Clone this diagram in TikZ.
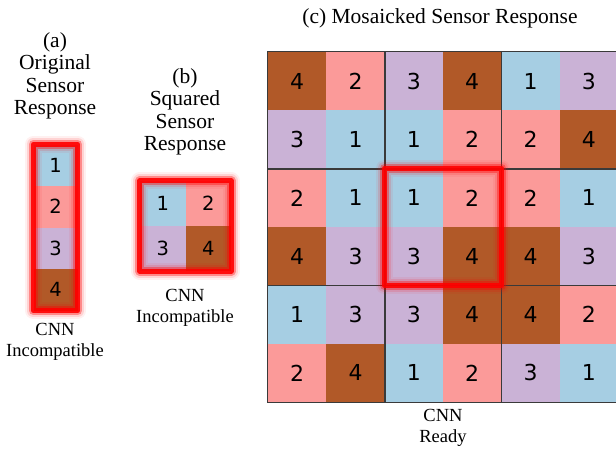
\documentclass[tikz,border=0pt]{standalone}
\usepackage{fontspec}
\setmainfont{Liberation Serif}
\newfontfamily\dvsans{DejaVu Sans}
\definecolor{col1}{HTML}{A6CEE3}
\definecolor{col2}{HTML}{FB9A99}
\definecolor{col3}{HTML}{CAB2D6}
\definecolor{col4}{HTML}{B15928}
\definecolor{blkline}{HTML}{3A3A3A}
\tikzset{
  gcell/.style={inner sep=0pt, minimum width=58.6pt, minimum height=58.6pt, font=\dvsans\fontsize{22}{22}\selectfont, text=black},
  acell/.style={inner sep=0pt, minimum width=44pt, minimum height=41.5pt, font=\dvsans\fontsize{19.5}{19.5}\selectfont, text=black},
  bcell/.style={inner sep=0pt, minimum width=45.5pt, minimum height=45pt, font=\dvsans\fontsize{19.5}{19.5}\selectfont, text=black},
  toplabel/.style={align=center, inner sep=0pt, font=\fontsize{21.5}{22.5}\selectfont},
  botlabel/.style={align=center, inner sep=0pt, font=\fontsize{18.5}{21.5}\selectfont},
  blk/.style={draw=blkline, line width=0.8pt},
  glowD/.style={draw=red, line width=17pt, opacity=0.06, line join=round},
  glowA/.style={draw=red, line width=13pt, opacity=0.12, line join=round},
  glowB/.style={draw=red, line width=9pt, opacity=0.35, line join=round},
  glowC/.style={draw=red, line width=5pt, opacity=0.9, line join=round},
}
\begin{document}
\begin{tikzpicture}[x=1pt,y=-1pt]
\useasboundingbox (0,0) rectangle (616,453);
\clip (0,0) rectangle (616,453);
% (c) mosaic grid
\foreach \row [count=\r] in {{4,2,3,4,1,3},{3,1,1,2,2,4},{2,1,1,2,2,1},{4,3,3,4,4,3},{1,3,3,4,4,2},{2,4,1,2,3,1}} {
  \foreach \v [count=\c] in \row {
    \node[gcell, fill=col\v] (g-\r-\c) at ({268+(\c-0.5)*58.333}, {52+(\r-0.5)*58.333}) {\v};
  }
}
\foreach \a/\b in {1/2,3/4,5/6} {
  \foreach \p/\q in {1/2,3/4,5/6} {
    \draw[blk] (g-\a-\p.north west) rectangle (g-\b-\q.south east);
  }
}
\foreach \s in {glowD,glowA,glowB,glowC}
  \draw[\s] (g-3-3.north west) rectangle (g-4-4.south east);
% (a) original column
\node[acell, fill=col1] (a1) at (55.5,165.25) {1};
\node[acell, fill=col2] (a2) at (55.5,206.75) {2};
\node[acell, fill=col3] (a3) at (55.5,248.25) {3};
\node[acell, fill=col4] (a4) at (55.5,289.75) {4};
\foreach \s in {glowD,glowA,glowB,glowC}
  \draw[\s] (a1.north west) rectangle (a4.south east);
% (b) squared
\node[bcell, fill=col1] (b1) at (162.75,203.5) {1};
\node[bcell, fill=col2] (b2) at (208.25,203.5) {2};
\node[bcell, fill=col3] (b3) at (162.75,248.5) {3};
\node[bcell, fill=col4] (b4) at (208.25,248.5) {4};
\foreach \s in {glowD,glowA,glowB,glowC}
  \draw[\s] (b1.north west) rectangle (b4.south east);
% labels
\node[toplabel] (tc) at (440,18) {(c) Mosaicked Sensor Response};
\node[toplabel] (ta) at (55,76) {(a)\\Original\\Sensor\\Response};
\node[toplabel] (tb) at (185,112) {(b)\\Squared\\Sensor\\Response};
\node[botlabel] (la) at (55,342) {CNN\\Incompatible};
\node[botlabel] (lb) at (185,308) {CNN\\Incompatible};
\node[botlabel] (lc) at (443,428) {CNN\\Ready};
\end{tikzpicture}
\end{document}
